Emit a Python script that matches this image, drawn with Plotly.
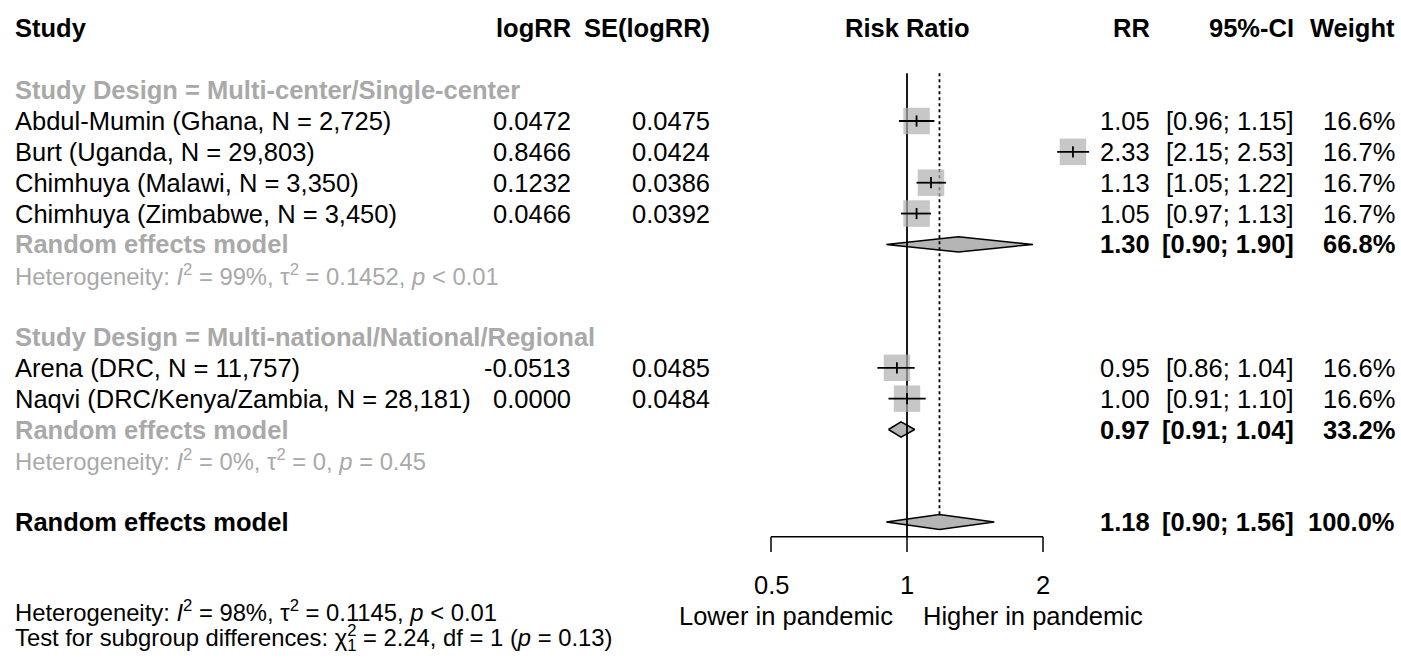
import math
import plotly.graph_objects as go

# ---- study-level data -------------------------------------------------------
studies = [
    "Abdul-Mumin (Ghana, N = 2,725)",
    "Burt (Uganda, N = 29,803)",
    "Chimhuya (Malawi, N = 3,350)",
    "Chimhuya (Zimbabwe, N = 3,450)",
    "Arena (DRC, N = 11,757)",
    "Naqvi (DRC/Kenya/Zambia, N = 28,181)",
]
log_rr = [0.0472, 0.8466, 0.1232, 0.0466, -0.0513, 0.0000]
se_log_rr = [0.0475, 0.0424, 0.0386, 0.0392, 0.0485, 0.0484]
rr = [1.05, 2.33, 1.13, 1.05, 0.95, 1.00]
ci_low = [0.96, 2.15, 1.05, 0.97, 0.86, 0.91]
ci_high = [1.15, 2.53, 1.22, 1.13, 1.04, 1.10]
weight = [16.6, 16.7, 16.7, 16.7, 16.6, 16.6]
study_rows = [0, 1, 2, 3, 8, 9]

# ---- subgroup summaries -----------------------------------------------------
groups = [
    "Study Design = Multi-center/Single-center",
    "Study Design = Multi-national/National/Regional",
]
group_rows = [-1, 7]
group_model_rows = [4, 10]
group_rr = [1.30, 0.97]
group_low = [0.90, 0.91]
group_high = [1.90, 1.04]
group_weight = [66.8, 33.2]
group_i2 = ["99%", "0%"]
group_tau2 = ["0.1452", "0"]
group_p = ["&lt; 0.01", "= 0.45"]

# ---- overall summary --------------------------------------------------------
overall_row = 13
overall_rr = 1.18
overall_low = 0.90
overall_high = 1.56
overall_weight = 100.0
overall_i2, overall_tau2, overall_p = "98%", "0.1145", "&lt; 0.01"
subgroup_chi2, subgroup_df, subgroup_p = "2.24", "1", "0.13"

axis_ticks = [0.5, 1, 2]
axis_tick_labels = ["0.5", "1", "2"]

# ---- layout constants -------------------------------------------------------
W, H = 1401, 659
FONT = "Liberation Sans, Arial, Helvetica, sans-serif"
FS = 25.5          # table text
FS_STAT = 23.8     # heterogeneity / test statistics lines
GREY_TXT = "#a9a9a9"
BOX_GREY = "#afafaf"
DIAMOND_GREY = "#b5b5b5"
LW = 1.8

axis_row = 13.48
tick_row = 13.97
top_row = -1.55
dh = 0.245  # diamond half-height in rows

fig = go.Figure()


def px(x):
    return x / W


annotations = []


def label(text, x, row, anchor="left", bold=False, color="black", size=FS):
    if bold:
        text = f"<b>{text}</b>"
    annotations.append(dict(
        text=text, x=px(x), xref="paper", y=row, yref="y",
        xanchor=anchor, yanchor="middle", showarrow=False,
        font=dict(family=FONT, size=size, color=color),
    ))


def diamond(est, lo, hi, row):
    fig.add_trace(go.Scatter(
        x=[lo, est, hi, est, lo], y=[row, row - dh, row, row + dh, row],
        mode="lines", fill="toself", fillcolor=DIAMOND_GREY,
        line=dict(color="black", width=LW - 0.3), hoverinfo="skip", showlegend=False,
    ))


# summary diamonds
for est, lo, hi, row in zip(group_rr, group_low, group_high, group_model_rows):
    diamond(est, lo, hi, row)
diamond(overall_rr, overall_low, overall_high, overall_row)

# reference line (no effect) and dotted overall-effect line
fig.add_trace(go.Scatter(x=[1, 1], y=[top_row, axis_row], mode="lines",
                         line=dict(color="black", width=LW),
                         hoverinfo="skip", showlegend=False))
fig.add_trace(go.Scatter(x=[overall_rr, overall_rr], y=[top_row, overall_row - dh],
                         mode="lines", line=dict(color="black", width=LW, dash="dot"),
                         hoverinfo="skip", showlegend=False))

# study squares sized by weight
fig.add_trace(go.Scatter(
    x=rr, y=study_rows, mode="markers",
    marker=dict(symbol="square", color=BOX_GREY,
                size=[26.5 * (w / 16.7) ** 0.5 for w in weight], line=dict(width=0)),
    hoverinfo="skip", showlegend=False,
))

# confidence intervals
ci_x, ci_y = [], []
for lo, hi, row in zip(ci_low, ci_high, study_rows):
    ci_x += [lo, hi, None]
    ci_y += [row, row, None]
fig.add_trace(go.Scatter(x=ci_x, y=ci_y, mode="lines",
                         line=dict(color="black", width=LW),
                         hoverinfo="skip", showlegend=False))
fig.add_trace(go.Scatter(
    x=rr, y=study_rows, mode="markers",
    marker=dict(symbol="line-ns", size=8, line=dict(color="black", width=LW)),
    hoverinfo="skip", showlegend=False,
))

# x axis drawn as a bracket with ticks
ax_x = [axis_ticks[0], axis_ticks[-1], None]
ax_y = [axis_row, axis_row, None]
for t in axis_ticks:
    ax_x += [t, t, None]
    ax_y += [axis_row, tick_row, None]
fig.add_trace(go.Scatter(x=ax_x, y=ax_y, mode="lines",
                         line=dict(color="black", width=LW - 0.3),
                         hoverinfo="skip", showlegend=False))
for t, s in zip(axis_ticks, axis_tick_labels):
    annotations.append(dict(
        text=s, x=math.log10(t), xref="x", y=15.04, yref="y", xanchor="center",
        yanchor="middle", showarrow=False,
        font=dict(family=FONT, size=FS, color="black"),
    ))
label("Lower in pandemic", 895, 16.05, anchor="right")
label("Higher in pandemic", 921, 16.05, anchor="left")

# ---- column headers ---------------------------------------------------------
HDR = -3.0
label("Study", 13, HDR, bold=True)
label("logRR", 573, HDR, anchor="right", bold=True)
label("SE(logRR)", 712, HDR, anchor="right", bold=True)
label("Risk Ratio", 907, HDR, anchor="center", bold=True)
label("RR", 1152, HDR, anchor="right", bold=True)
label("95%-CI", 1296, HDR, anchor="right", bold=True)
label("Weight", 1397, HDR, anchor="right", bold=True)

# ---- study rows -------------------------------------------------------------
for name, lr, se, r, lo, hi, w, row in zip(studies, log_rr, se_log_rr, rr,
                                           ci_low, ci_high, weight, study_rows):
    label(name, 13, row)
    label(f"{lr:.4f}", 573, row, anchor="right")
    label(f"{se:.4f}", 712, row, anchor="right")
    label(f"{r:.2f}", 1152, row, anchor="right")
    label(f"[{lo:.2f}; {hi:.2f}]", 1296, row, anchor="right")
    label(f"{w:.1f}%", 1397, row, anchor="right")

# ---- subgroup rows ----------------------------------------------------------
for g, grow, mrow, est, lo, hi, w, i2, t2, p in zip(
        groups, group_rows, group_model_rows, group_rr, group_low, group_high,
        group_weight, group_i2, group_tau2, group_p):
    label(g, 13, grow, bold=True, color=GREY_TXT)
    label("Random effects model", 13, mrow, bold=True, color=GREY_TXT)
    label(f"{est:.2f}", 1152, mrow, anchor="right", bold=True)
    label(f"[{lo:.2f}; {hi:.2f}]", 1296, mrow, anchor="right", bold=True)
    label(f"{w:.1f}%", 1397, mrow, anchor="right", bold=True)
    label(f"Heterogeneity: <i>I</i><sup>2</sup> = {i2}, τ<sup>2</sup> = {t2}, <i>p</i> {p}",
          13, mrow + 1, color=GREY_TXT, size=FS_STAT)

# ---- overall ----------------------------------------------------------------
label("Random effects model", 13, overall_row, bold=True)
label(f"{overall_rr:.2f}", 1152, overall_row, anchor="right", bold=True)
label(f"[{overall_low:.2f}; {overall_high:.2f}]", 1296, overall_row, anchor="right", bold=True)
label(f"{overall_weight:.1f}%", 1397, overall_row, anchor="right", bold=True)
label(f"Heterogeneity: <i>I</i><sup>2</sup> = {overall_i2}, τ<sup>2</sup> = {overall_tau2}, <i>p</i> {overall_p}",
      13, 15.88, size=FS_STAT)
# chi-square with stacked super/subscript: pull the subscript back under the "2"
stack = "<span style='letter-spacing:-9.3px'>2</span>"
label(f"Test for subgroup differences: χ<sup>{stack}</sup><sub>{subgroup_df}</sub> = {subgroup_chi2}, "
      f"df = {subgroup_df} (<i>p</i> = {subgroup_p})",
      13, 16.82, size=FS_STAT)

# log axis calibrated so that one doubling spans 136 px with RR = 1 at x = 907
dec = 136 / math.log10(2)
x_range = [-907 / dec, (W - 907) / dec]
y_range = [(H - 121) / 30.85, -121 / 30.85]

fig.update_layout(
    width=W, height=H, margin=dict(l=0, r=0, t=0, b=0),
    paper_bgcolor="white", plot_bgcolor="white",
    xaxis=dict(type="log", range=x_range, visible=False, domain=[0, 1]),
    yaxis=dict(range=y_range, visible=False, domain=[0, 1]),
    annotations=annotations, showlegend=False,
)

fig.write_html("out.html")
